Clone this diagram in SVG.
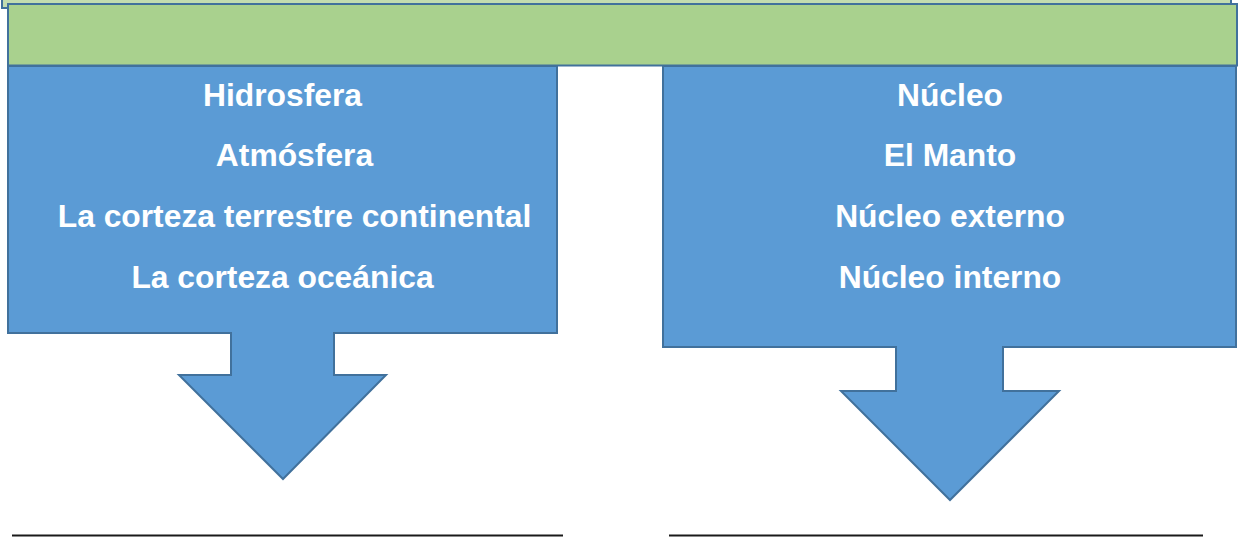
<svg xmlns="http://www.w3.org/2000/svg" width="1238" height="537" viewBox="0 0 1238 537">
<style>
.shape{fill:#5b9bd5;stroke:#41719c;stroke-width:2;stroke-linejoin:miter}
.bar{fill:#a9d18e;stroke:#41719c;stroke-width:2}
.back{fill:#c2dcb0;stroke:#41719c;stroke-width:2}
.t{font-family:"Liberation Sans",Arial,sans-serif;font-weight:bold;font-size:31.8px;fill:#ffffff;text-anchor:middle}
.rule{stroke:#1a1a1a;stroke-width:2}
</style>
<rect fill="#ffffff" x="0" y="0" width="1238" height="537"/>
<g id="back-box"><rect class="back" x="2" y="-10" width="1229" height="18"/></g>
<g id="title-bar"><rect class="bar" x="8" y="4" width="1229" height="61.5"/></g>
<g id="left-node">
<path class="shape" d="M8 66 H557 V333 H334 V375 H386 L283 479 L179 375 H231 V333 H8 Z"/>
<text class="t" x="282.5" y="106">Hidrosfera</text>
<text class="t" x="294.5" y="166">Atmósfera</text>
<text class="t" x="294.5" y="226.5">La corteza terrestre continental</text>
<text class="t" x="282.5" y="288">La corteza oceánica</text>
</g>
<g id="right-node">
<path class="shape" d="M663 66 H1236 V347 H1003 V391 H1059 L950 500 L841 391 H896 V347 H663 Z"/>
<text class="t" x="950" y="106">Núcleo</text>
<text class="t" x="950" y="166">El Manto</text>
<text class="t" x="950" y="226.5">Núcleo externo</text>
<text class="t" x="950" y="288">Núcleo interno</text>
</g>
<g id="connectors">
<line class="rule" x1="12" y1="535.5" x2="563" y2="535.5"/>
<line class="rule" x1="669" y1="535.5" x2="1203" y2="535.5"/>
</g>
</svg>
